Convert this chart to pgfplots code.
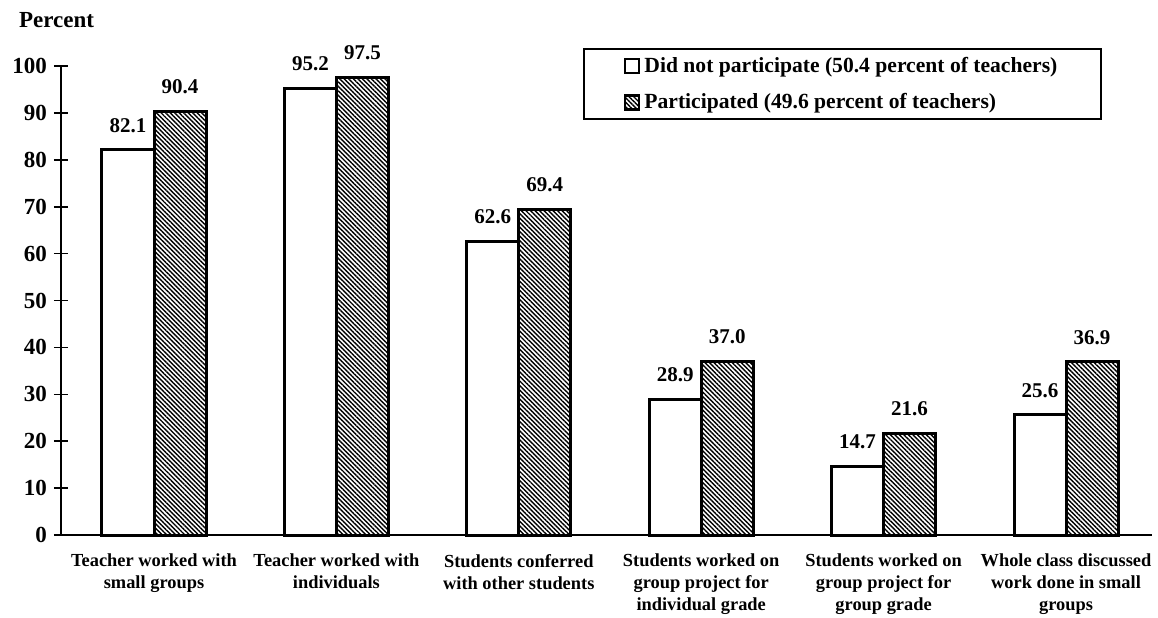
\documentclass[border=0pt]{standalone}
\usepackage{pgfplots}
\pgfplotsset{compat=1.18}
\usepackage{fontspec}
\setmainfont{Liberation Serif}
\usetikzlibrary{patterns.meta}
\begin{document}
\begin{tikzpicture}[font=\bfseries]
\path[use as bounding box] (-30.5pt,-41pt) rectangle (548.5pt,267.5pt);
\begin{axis}[
  scale only axis, width=545.5pt, height=234.5pt,
  xmin=61, xmax=1152, ymin=0, ymax=100,
  axis lines=left, axis line style={-, line width=1pt},
  clip=false,
  ytick={0,10,...,100},
  tick align=center,
  major tick length=7pt,
  tick style={line width=0.8pt, black},
  xtick={154,336.4,518.8,701.2,883.6,1066},
  xtick style={draw=none},
  xticklabels={{Teacher worked with\\small groups},{Teacher worked with\\individuals},{Students conferred\\with other students},{Students worked on\\group project for\\individual grade},{Students worked on\\group project for\\group grade},{Whole class discussed\\work done in small\\groups}},
  xticklabel style={align=center, font=\fontsize{9.2}{11}\selectfont\bfseries, anchor=north, yshift=1pt},
  yticklabel style={font=\fontsize{11.5}{12}\selectfont\bfseries},
  /pgf/number format/assume math mode=true,
  ybar, bar width=26pt, bar shift=0pt,
  nodes near coords={\pgfmathprintnumber[fixed,fixed zerofill,precision=1]{\pgfplotspointmeta}},
  every node near coord/.append style={font=\fontsize{10.5}{12}\selectfont\bfseries, inner sep=0pt, anchor=south, yshift=8pt, black},
  legend style={at={(0.4785,1.0384)}, anchor=north west, draw=black, line width=1pt,
    font=\fontsize{10.8}{12}\selectfont\bfseries, inner xsep=20pt, inner ysep=2pt, row sep=5pt,
    /tikz/every even column/.append style={column sep=2pt}},
  legend cell align=left,
  legend image code/.code={\draw[#1, line width=1.2pt] (0pt,-3.5pt) rectangle (7pt,3.5pt);},
]
\addplot[draw=black, line width=1.5pt, fill=white] coordinates {(128,82.1) (310.4,95.2) (492.8,62.6) (675.2,28.9) (857.6,14.7) (1040,25.6)};
\addplot[draw=black, line width=1.5pt, pattern={Lines[angle=-45,distance=1.6pt,line width=0.7pt]}] coordinates {(180,90.4) (362.4,97.5) (544.8,69.4) (727.2,37.0) (909.6,21.6) (1092,36.9)};
\legend{Did not participate (50.4 percent of teachers), Participated (49.6 percent of teachers)}
\end{axis}
\node[anchor=base west, font=\fontsize{11.5}{12}\selectfont\bfseries] at (-24.5pt,254pt) {Percent};
\end{tikzpicture}
\end{document}
